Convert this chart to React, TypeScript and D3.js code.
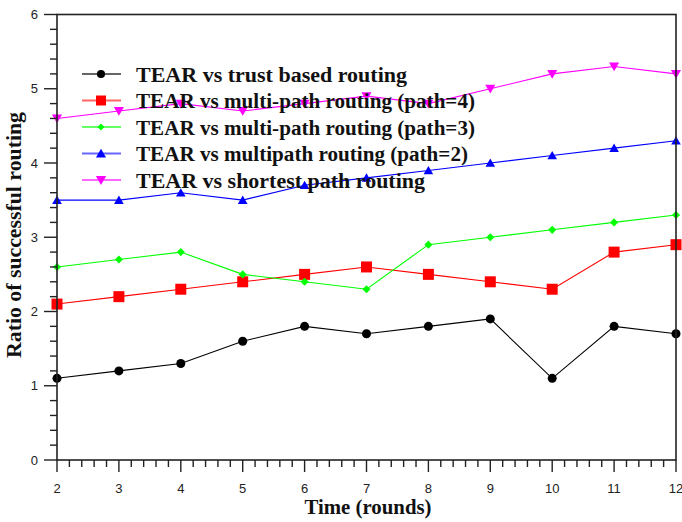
import React from "react";
import * as d3 from "d3";

// Rounds on the x axis
const rounds = [2, 3, 4, 5, 6, 7, 8, 9, 10, 11, 12];

// Ratio of successful routing for each comparison
const trustBased = [1.1, 1.2, 1.3, 1.6, 1.8, 1.7, 1.8, 1.9, 1.1, 1.8, 1.7];
const multiPath4 = [2.1, 2.2, 2.3, 2.4, 2.5, 2.6, 2.5, 2.4, 2.3, 2.8, 2.9];
const multiPath3 = [2.6, 2.7, 2.8, 2.5, 2.4, 2.3, 2.9, 3.0, 3.1, 3.2, 3.3];
const multiPath2 = [3.5, 3.5, 3.6, 3.5, 3.7, 3.8, 3.9, 4.0, 4.1, 4.2, 4.3];
const shortestPath = [4.6, 4.7, 4.8, 4.7, 4.8, 4.9, 4.8, 5.0, 5.2, 5.3, 5.2];

const seriesNames = [
  "TEAR vs trust based routing",
  "TEAR vs multi-path routing (path=4)",
  "TEAR vs multi-path routing (path=3)",
  "TEAR vs multipath routing (path=2)",
  "TEAR vs shortest path routing",
];

const xTicks = [2, 3, 4, 5, 6, 7, 8, 9, 10, 11, 12];
const yTicks = [0, 1, 2, 3, 4, 5, 6];

type Marker = "circle" | "square" | "diamond" | "up" | "down";

const series = [
  { name: seriesNames[0], values: trustBased, color: "#000000", marker: "circle" as Marker, size: 64, legendSize: 52, textWidth: 271 },
  { name: seriesNames[1], values: multiPath4, color: "#ff0000", marker: "square" as Marker, size: 121, legendSize: 100, textWidth: 339 },
  { name: seriesNames[2], values: multiPath3, color: "#00ff00", marker: "diamond" as Marker, size: 42, legendSize: 32, textWidth: 339 },
  { name: seriesNames[3], values: multiPath2, color: "#0000ff", marker: "up" as Marker, size: 40, legendSize: 44, textWidth: 332 },
  { name: seriesNames[4], values: shortestPath, color: "#ff00ff", marker: "down" as Marker, size: 44, legendSize: 46, textWidth: 289 },
];

const W = 682;
const H = 522;
const left = 57;
const right = 676;
const top = 14.5;
const bottom = 460;

function symbolPath(marker: Marker, size: number): string {
  const type =
    marker === "circle"
      ? d3.symbolCircle
      : marker === "square"
      ? d3.symbolSquare
      : marker === "diamond"
      ? d3.symbolDiamond2
      : d3.symbolTriangle;
  return d3.symbol().type(type).size(size)() || "";
}

function MarkerMark({ marker, size, x, y, color }: { marker: Marker; size: number; x: number; y: number; color: string }) {
  const rot = marker === "down" ? " rotate(180)" : "";
  const dy = marker === "up" ? 1 : marker === "down" ? -1 : 0;
  return <path d={symbolPath(marker, size)} transform={`translate(${x},${y + dy})${rot}`} fill={color} stroke="none" />;
}

export default function App() {
  const x = d3.scaleLinear().domain([2, 12]).range([left, right]);
  const y = d3.scaleLinear().domain([0, 6]).range([bottom, top]);

  const line = d3
    .line<number>()
    .x((_, i) => x(rounds[i]))
    .y((d) => y(d));

  const xMinor = d3.range(2, 12.001, 0.2).filter((v) => Math.abs(v - Math.round(v)) > 1e-6);
  const yMinor = d3.range(0, 6.001, 0.2).filter((v) => Math.abs(v - Math.round(v)) > 1e-6);

  const tickFont = "'Liberation Sans', Arial, sans-serif";
  const titleFont = "'Liberation Serif', 'Times New Roman', serif";

  const legendRowY = (i: number) => 74 + i * 26.5;

  return (
    <svg width={W} height={H} style={{ position: "absolute", left: 0, top: 0, background: "#fff" }}>
      <rect x={0} y={0} width={W} height={H} fill="#fff" />

      {/* data lines and markers */}
      {series.map((s) => (
        <g key={s.name}>
          <path d={line(s.values) || ""} fill="none" stroke={s.color} strokeWidth={1.1} />
          {s.values.map((v, i) => (
            <MarkerMark key={i} marker={s.marker} size={s.size} x={x(rounds[i])} y={y(v)} color={s.color} />
          ))}
        </g>
      ))}

      {/* frame */}
      <rect x={left} y={top} width={right - left} height={bottom - top} fill="none" stroke="#222" strokeWidth={1.6} />

      {/* y axis ticks */}
      {yTicks.map((t) => (
        <g key={`y${t}`}>
          <line x1={left - 13} x2={left} y1={y(t)} y2={y(t)} stroke="#222" strokeWidth={1.4} />
          <text x={38} y={y(t)} dy="0.35em" textAnchor="end" fontFamily={tickFont} fontSize={13} fill="#222">
            {t}
          </text>
        </g>
      ))}
      {yMinor.map((t, i) => (
        <line key={`ym${i}`} x1={left - 7} x2={left} y1={y(t)} y2={y(t)} stroke="#222" strokeWidth={1.4} />
      ))}

      {/* x axis ticks */}
      {xTicks.map((t) => (
        <g key={`x${t}`}>
          <line x1={x(t)} x2={x(t)} y1={bottom} y2={bottom + 12} stroke="#222" strokeWidth={1.4} />
          <text x={x(t)} y={493} textAnchor="middle" fontFamily={tickFont} fontSize={13} fill="#222">
            {t}
          </text>
        </g>
      ))}
      {xMinor.map((t, i) => (
        <line key={`xm${i}`} x1={x(t)} x2={x(t)} y1={bottom} y2={bottom + 7} stroke="#222" strokeWidth={1.4} />
      ))}

      {/* axis titles */}
      <text
        x={368}
        y={514}
        textAnchor="middle"
        fontFamily={titleFont}
        fontWeight="bold"
        fontSize={21}
        textLength={127}
        lengthAdjust="spacingAndGlyphs"
        fill="#111"
      >
        Time (rounds)
      </text>
      <text
        transform="translate(21,235) rotate(-90)"
        textAnchor="middle"
        fontFamily={titleFont}
        fontWeight="bold"
        fontSize={21}
        textLength={246}
        lengthAdjust="spacingAndGlyphs"
        fill="#111"
      >
        Ratio of successful routing
      </text>

      {/* legend */}
      {series.map((s, i) => {
        const cy = legendRowY(i);
        return (
          <g key={`lg${i}`}>
            <line x1={82} x2={121} y1={cy} y2={cy} stroke={s.color} strokeWidth={2} strokeOpacity={0.6} />
            <MarkerMark marker={s.marker} size={s.legendSize} x={101} y={cy} color={s.color} />
            <text
              x={136}
              y={cy + 7.5}
              fontFamily={titleFont}
              fontWeight="bold"
              fontSize={20}
              textLength={s.textWidth}
              lengthAdjust="spacingAndGlyphs"
              fill="#111"
            >
              {s.name}
            </text>
          </g>
        );
      })}
    </svg>
  );
}
